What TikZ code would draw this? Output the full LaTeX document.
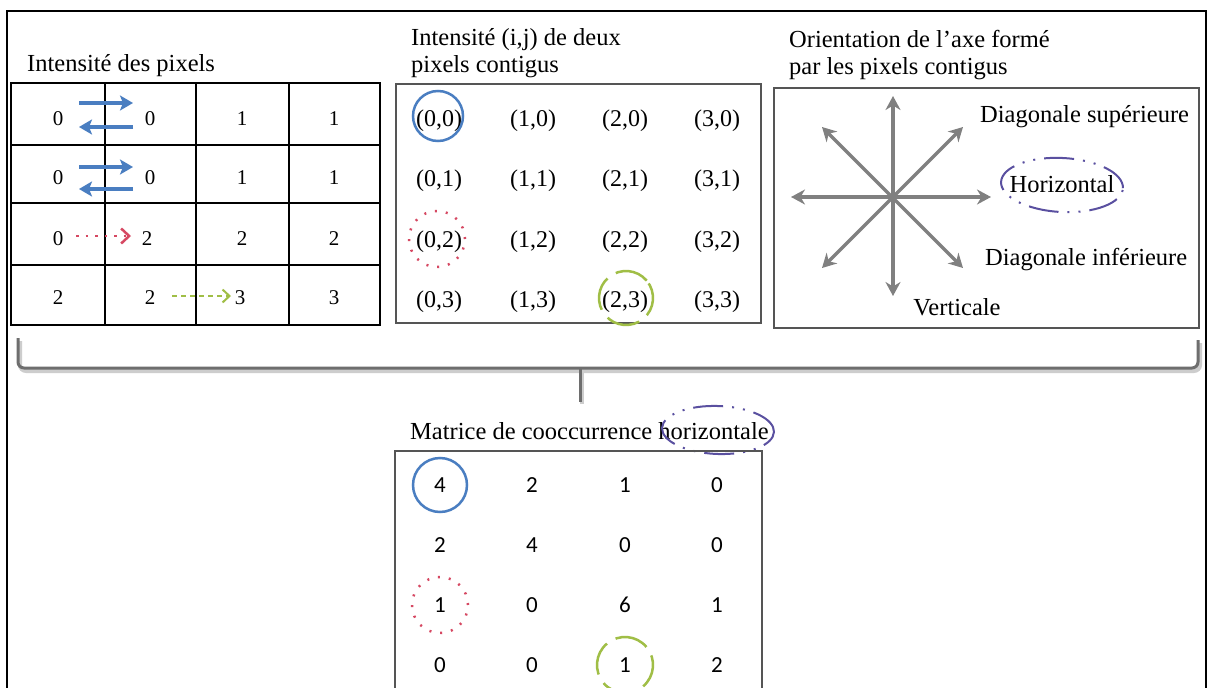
\documentclass[tikz,border=0pt]{standalone}
\usepackage{fontspec}
\setmainfont{Liberation Serif}
\newfontfamily\digitfont{Carlito}
\usetikzlibrary{arrows.meta,shapes.geometric}
\definecolor{pblue}{RGB}{74,126,193}
\definecolor{pred}{RGB}{214,72,98}
\definecolor{pgreen}{RGB}{160,190,70}
\definecolor{ppurple}{RGB}{90,80,160}
\definecolor{boxgray}{RGB}{85,85,85}
\definecolor{arrgray}{RGB}{128,128,128}
\definecolor{bracegray}{RGB}{110,110,110}
\definecolor{shadowgray}{RGB}{205,205,205}
\tikzset{
  ttl/.style={font=\fontsize{24.5}{27}\selectfont, anchor=base west, inner sep=0pt},
  gdig/.style={font=\fontsize{21}{24}\selectfont, anchor=base, inner sep=0pt},
  pair/.style={font=\fontsize{24}{27}\selectfont, anchor=base, inner sep=0pt},
  mdig/.style={font=\digitfont\fontsize{23}{26}\selectfont, anchor=base, inner sep=0pt},
  gridline/.style={draw=black, line width=1.8pt},
  panel/.style={draw=boxgray, line width=2.2pt},
  bluearr/.style={draw=pblue, line width=3.5pt, -{Stealth[length=13pt,width=15pt,inset=3pt]}},
  redarr/.style={draw=pred, line width=2.5pt, dash pattern=on 2.5pt off 7pt, -{Straight Barb[length=8pt,width=15pt,line width=2.5pt]}},
  greenarr/.style={draw=pgreen, line width=2pt, dash pattern=on 5pt off 4pt, -{Straight Barb[length=7pt,width=13pt,line width=2pt]}},
  starr/.style={draw=arrgray, line width=3.5pt, {Stealth[length=14pt,width=15pt]}-{Stealth[length=14pt,width=15pt]}},
  bluering/.style={circle, draw=pblue, line width=2.5pt, inner sep=0pt},
  redring/.style={circle, draw=pred, line width=2.5pt, dash pattern=on 2pt off 9pt, inner sep=0pt},
  greenring/.style={circle, draw=pgreen, line width=2.5pt, dash pattern=on 34pt off 10pt, inner sep=0pt},
  purpring/.style={ellipse, draw=ppurple, line width=2pt, dash pattern=on 30pt off 9pt on 2pt off 9pt on 2pt off 9pt, inner sep=0pt},
}
\begin{document}
\begin{tikzpicture}[x=1pt,y=-1pt]
\useasboundingbox (0,0) rectangle (1208,688);
\clip (0,0) rectangle (1208,688);
\fill[white] (0,0) rectangle (1208,688);

% outer frame (open at the bottom)
\draw[line width=2pt] (7,700) -- (7,11) -- (1206,11) -- (1206,700);

% ---------- left panel: pixel intensities ----------
\node[ttl] (t1) at (27,71) {Intensité des pixels};
\draw[gridline] (11,83) rectangle (380,325);
\draw[gridline] (105,83) -- (105,325) (196,83) -- (196,325) (289,83) -- (289,325);
\draw[gridline] (11,145) -- (380,145) (11,203) -- (380,203) (11,265) -- (380,265);

\node[gdig] (a11) at (58,125) {0};
\node[gdig] (a12) at (150,125) {0};
\node[gdig] (a13) at (242,125) {1};
\node[gdig] (a14) at (334,125) {1};
\node[gdig] (a21) at (58,184) {0};
\node[gdig] (a22) at (150,184) {0};
\node[gdig] (a23) at (242,184) {1};
\node[gdig] (a24) at (334,184) {1};
\node[gdig] (a31) at (58,245) {0};
\node[gdig] (a32) at (147,245) {2};
\node[gdig] (a33) at (242,245) {2};
\node[gdig] (a34) at (334,245) {2};
\node[gdig] (a41) at (58,304) {2};
\node[gdig] (a42) at (150,304) {2};
\node[gdig] (a43) at (240,304) {3};
\node[gdig] (a44) at (334,304) {3};

\coordinate (b1l) at (79,103);  \coordinate (b1r) at (133,103);
\coordinate (b2r) at (133,127); \coordinate (b2l) at (79,127);
\coordinate (b3l) at (79,167);  \coordinate (b3r) at (133,167);
\coordinate (b4r) at (133,189); \coordinate (b4l) at (79,189);
\draw[bluearr] (b1l) -- (b1r);
\draw[bluearr] (b2r) -- (b2l);
\draw[bluearr] (b3l) -- (b3r);
\draw[bluearr] (b4r) -- (b4l);
\coordinate (r1) at (76,236); \coordinate (r2) at (131,236);
\draw[redarr] (r1) -- (r2);
\coordinate (g1) at (172,296); \coordinate (g2) at (231,296);
\draw[greenarr] (g1) -- (g2);

% ---------- middle panel: pairs ----------
\node[ttl] (t2a) at (411,45) {Intensité (i,j) de deux};
\node[ttl] (t2b) at (411,72) {pixels contigus};
\draw[panel] (396,84) rectangle (761,323);
\node[pair] (p00) at (439,126) {(0,0)};
\node[pair] (p10) at (533,126) {(1,0)};
\node[pair] (p20) at (625,126) {(2,0)};
\node[pair] (p30) at (717,126) {(3,0)};
\node[pair] (p01) at (439,186) {(0,1)};
\node[pair] (p11) at (533,186) {(1,1)};
\node[pair] (p21) at (625,186) {(2,1)};
\node[pair] (p31) at (717,186) {(3,1)};
\node[pair] (p02) at (439,247) {(0,2)};
\node[pair] (p12) at (533,247) {(1,2)};
\node[pair] (p22) at (625,247) {(2,2)};
\node[pair] (p32) at (717,247) {(3,2)};
\node[pair] (p03) at (439,307) {(0,3)};
\node[pair] (p13) at (533,307) {(1,3)};
\node[pair] (p23) at (625,307) {(2,3)};
\node[pair] (p33) at (717,307) {(3,3)};
\node[bluering, minimum size=50pt] (cp1) at (438,116) {};
\node[redring, minimum size=56pt] (cp2) at (437,239) {};
\node[greenring, minimum size=54pt, rotate=40] (cp3) at (626,298) {};

% ---------- right panel: orientations ----------
\node[ttl] (t3a) at (789,47) {Orientation de l’axe formé};
\node[ttl] (t3b) at (789,74) {par les pixels contigus};
\draw[panel] (774,88) rectangle (1199,328);
\coordinate (o) at (893,197);
\coordinate (dn) at (893,96);  \coordinate (ds) at (893,296);
\coordinate (dw) at (791,197); \coordinate (de) at (991,197);
\coordinate (dnw) at (822,127); \coordinate (dse) at (963,268);
\coordinate (dne) at (963,127); \coordinate (dsw) at (822,268);
\draw[starr] (dn) -- (ds);
\draw[starr] (dw) -- (de);
\draw[starr] (dnw) -- (dse);
\draw[starr] (dne) -- (dsw);
\node[ttl] (l1) at (980,122) {Diagonale supérieure};
\node[font=\fontsize{24.5}{27}\selectfont, anchor=base, inner sep=0pt] (l2) at (1062,192) {Horizontal};
\node[ttl] (l3) at (985,265) {Diagonale inférieure};
\node[font=\fontsize{24.5}{27}\selectfont, anchor=base, inner sep=0pt] (l4) at (957,315) {Verticale};
\node[purpring, minimum width=122pt, minimum height=54pt, rotate=-3] (e1) at (1062,185) {};

% ---------- brace ----------
\draw[shadowgray, line width=4pt, rounded corners=6pt] (20,341) -- (20,371) -- (1200,371) -- (1200,343);
\draw[shadowgray, line width=4pt] (582,371) -- (582,404);
\coordinate (bl) at (18,338);
\coordinate (br) at (1198,340);
\coordinate (bm) at (580,368);
\coordinate (bt) at (580,402);
\draw[bracegray, line width=3pt, rounded corners=6pt] (bl) -- (18,368) -- (1198,368) -- (br);
\draw[bracegray, line width=3pt] (bm) -- (bt);

% ---------- bottom panel: co-occurrence matrix ----------
\node[ttl] (t4) at (410,439) {Matrice de cooccurrence horizontale};
\node[purpring, minimum width=112pt, minimum height=48pt, rotate=-2] (e2) at (718,430) {};
\draw[panel] (395,700) -- (395,451) -- (762,451) -- (762,700);
\node[mdig] (m11) at (440,492) {4};
\node[mdig] (m12) at (532,492) {2};
\node[mdig] (m13) at (625,492) {1};
\node[mdig] (m14) at (717,492) {0};
\node[mdig] (m21) at (440,552) {2};
\node[mdig] (m22) at (532,552) {4};
\node[mdig] (m23) at (625,552) {0};
\node[mdig] (m24) at (717,552) {0};
\node[mdig] (m31) at (440,612) {1};
\node[mdig] (m32) at (532,612) {0};
\node[mdig] (m33) at (625,612) {6};
\node[mdig] (m34) at (717,612) {1};
\node[mdig] (m41) at (440,672) {0};
\node[mdig] (m42) at (532,672) {0};
\node[mdig] (m43) at (625,672) {1};
\node[mdig] (m44) at (717,672) {2};
\node[bluering, minimum size=54pt] (cm1) at (440,485) {};
\node[redring, minimum size=56pt] (cm2) at (440,605) {};
\node[greenring, minimum size=56pt, rotate=40] (cm3) at (625,665) {};
\end{tikzpicture}
\end{document}
